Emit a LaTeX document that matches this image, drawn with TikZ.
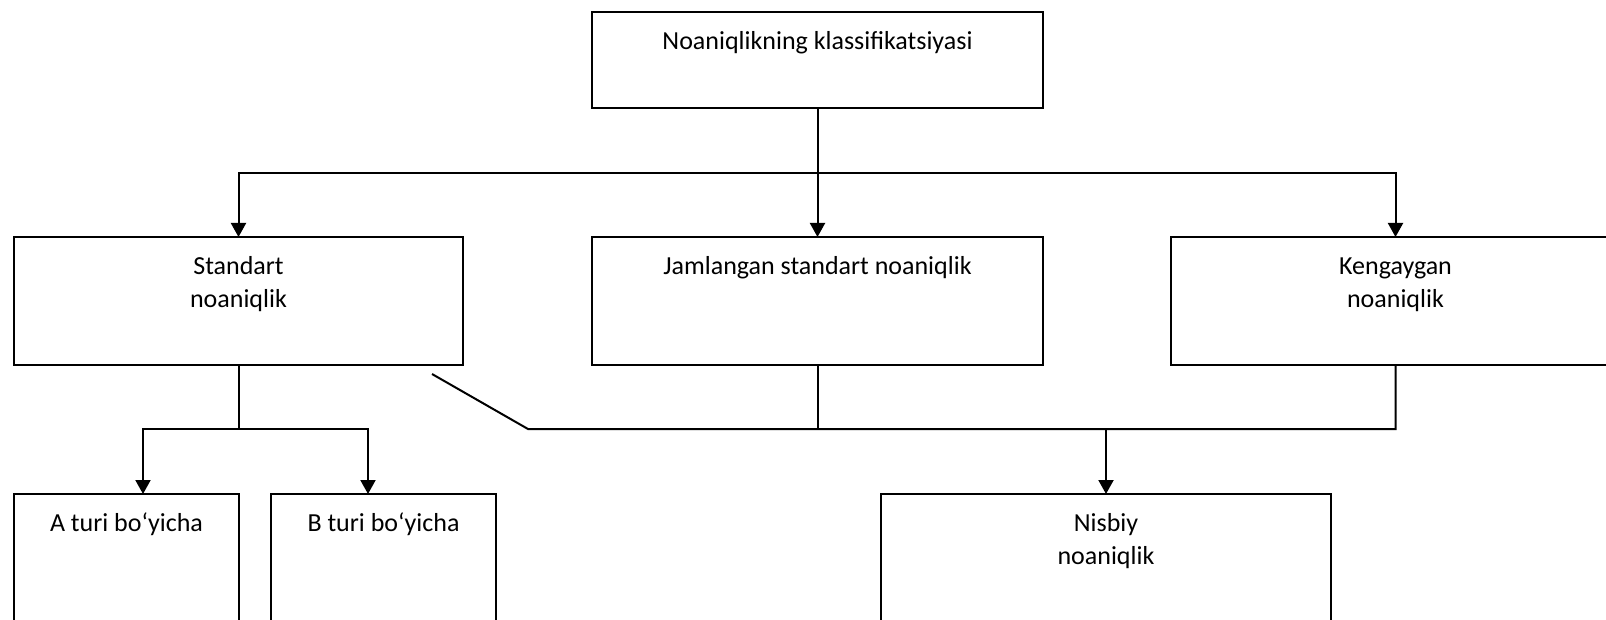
\documentclass[tikz,border=0pt]{standalone}
\usepackage{fontspec}
\setmainfont{Carlito}
\usetikzlibrary{arrows.meta}
\begin{document}
\begin{tikzpicture}[x=1pt,y=-1pt,line width=2pt,
  box/.style={draw, rectangle, anchor=north west, inner sep=0pt, outer sep=0pt,
    minimum width=#1},
  tall/.style={minimum height=128pt},
  lbl/.style={anchor=north, inner sep=0pt, align=center, yshift=-14pt,
    font=\fontsize{26}{32.5}\selectfont},
  arr/.style={-{Triangle[width=15pt,length=14pt]}}]
\useasboundingbox (0,0) rectangle (1606,620);
\clip (0,0) rectangle (1606,620);

% boxes
\node[box=451pt, minimum height=96pt, label={[lbl]north:\strut Noaniqlikning klassifikatsiyasi}] (top) at (592,12) {};
\node[box=449pt, tall, label={[lbl]north:\strut Standart\\noaniqlik}] (std) at (14,237) {};
\node[box=451pt, tall, label={[lbl]north:\strut Jamlangan standart noaniqlik}] (jam) at (592,237) {};
\node[box=449pt, tall, label={[lbl]north:\strut Kengaygan\\noaniqlik}] (ken) at (1171,237) {};
\node[box=225pt, minimum height=220pt, label={[lbl]north:\strut A turi bo‘yicha}] (A) at (14,494) {};
\node[box=225pt, minimum height=220pt, label={[lbl]north:\strut B turi bo‘yicha}] (B) at (271,494) {};
\node[box=450pt, minimum height=220pt, label={[lbl]north:\strut Nisbiy\\noaniqlik}] (nis) at (881,494) {};

% junction points
\path (top.south) ++(0,65) coordinate (tbar);
\coordinate (d0) at (432,374);
\coordinate (d1) at (528,429);
\path (std.south |- d1) coordinate (sbar);

% top level
\draw[arr] (top.south) -- (jam.north);
\draw[arr] (tbar) -| (std.north);
\draw[arr] (tbar) -| (ken.north);

% standard uncertainty split
\draw (std.south) -- (sbar);
\draw[arr] (sbar) -| ([xshift=16.5pt]A.north);
\draw[arr] (sbar) -| ([xshift=-15.5pt]B.north);

% relative uncertainty collector
\draw (d0) -- (d1) -- (ken.south |- d1) -- (ken.south);
\draw (jam.south) -- (jam.south |- d1);
\draw[arr] (nis.north |- d1) -- (nis.north);
\end{tikzpicture}
\end{document}
